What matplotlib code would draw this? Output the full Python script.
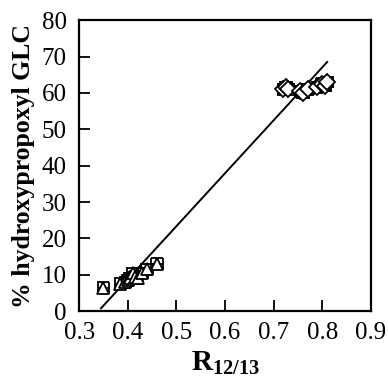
import matplotlib
matplotlib.use('Agg')
import matplotlib.pyplot as plt

# low cluster (triangles)
tri_x = [0.35, 0.385, 0.395, 0.40, 0.405, 0.41, 0.415, 0.42, 0.43, 0.44, 0.46]
tri_y = [6.5, 7.5, 8.0, 8.5, 9.0, 10.5, 9.5, 9.0, 10.5, 11.5, 13.0]
# high cluster (diamonds)
dia_x = [0.72, 0.725, 0.73, 0.755, 0.76, 0.77, 0.79, 0.80, 0.805, 0.81]
dia_y = [61.0, 61.5, 61.0, 60.5, 60.0, 61.0, 61.5, 62.5, 62.0, 63.0]
# regression line
fit_x = [0.345, 0.81]
fit_y = [0.8, 68.5]

plt.rcParams['font.family'] = 'Liberation Serif'
plt.rcParams['mathtext.fontset'] = 'custom'
plt.rcParams['mathtext.rm'] = 'Liberation Serif'
plt.rcParams['mathtext.bf'] = 'Liberation Serif:bold'

fig = plt.figure(figsize=(3.88, 3.88), dpi=100)
ax = fig.add_axes([0.204, 0.198, 0.752, 0.75])

ax.errorbar(tri_x, tri_y, xerr=0.012, yerr=1.5, fmt='^', mfc='white', mec='black',
            ms=8, mew=1.3, ecolor='black', elinewidth=1.2, capsize=4)
ax.errorbar(dia_x, dia_y, xerr=0.012, yerr=1.5, fmt='D', mfc='white', mec='black',
            ms=8, mew=1.3, ecolor='black', elinewidth=1.2, capsize=4)
ax.plot(fit_x, fit_y, color='black', lw=1.4)

ax.set_xlim(0.3, 0.9)
ax.set_ylim(0, 80)
ax.set_xticks([0.3, 0.4, 0.5, 0.6, 0.7, 0.8, 0.9])
ax.set_yticks(range(0, 90, 10))
ax.tick_params(direction='in', length=8, width=1.3, labelsize=18)
ax.tick_params(axis='x', pad=8)
ax.tick_params(axis='y', pad=9)
for s in ax.spines.values():
    s.set_linewidth(1.6)
ax.set_xlabel(r'$\mathbf{R_{12/13}}$', fontsize=21, labelpad=4)
ax.set_ylabel('% hydroxypropoxyl GLC', fontsize=18.5, fontweight='bold', labelpad=5)
fig.savefig('out.png', dpi=100)
